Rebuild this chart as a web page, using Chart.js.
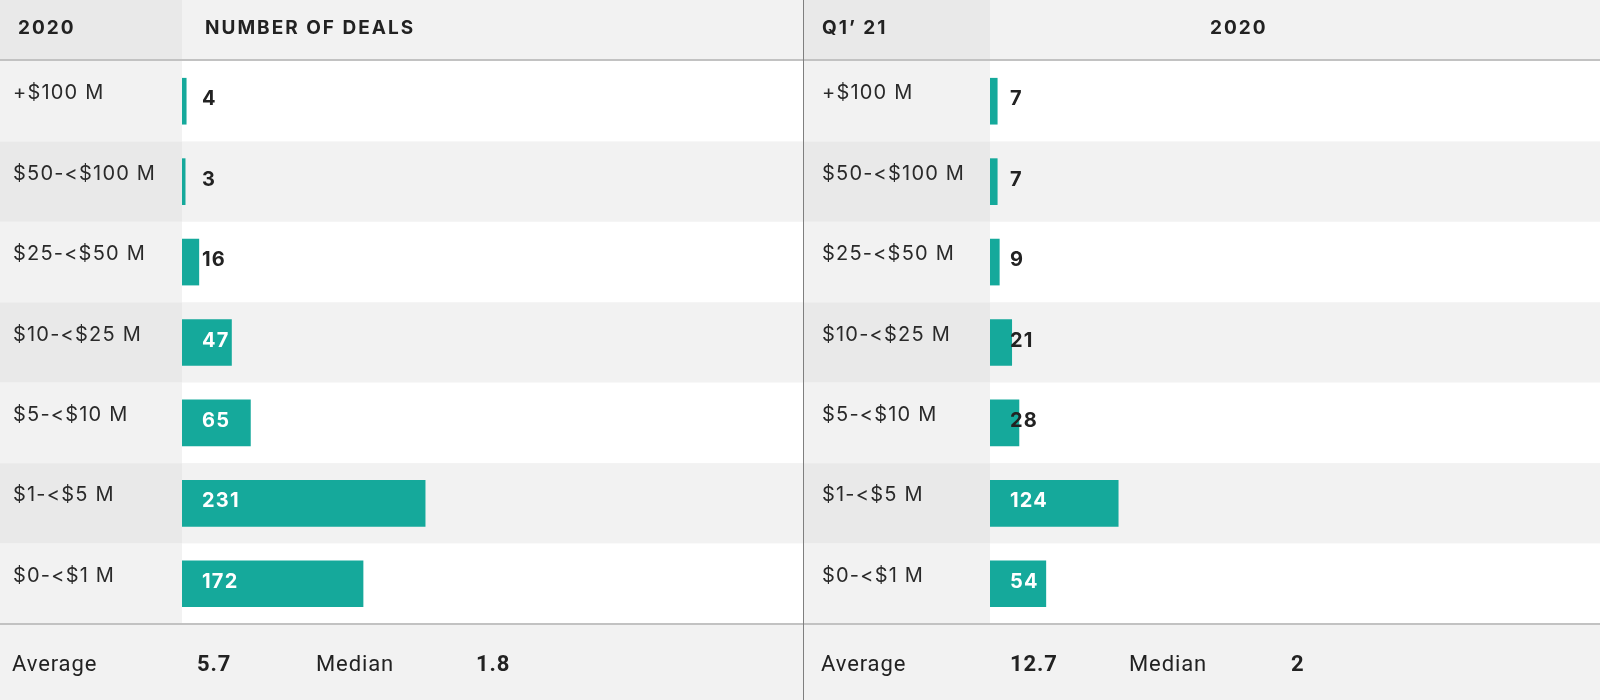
<!DOCTYPE html>
<html>
<head>
<meta charset="utf-8">
<script src="https://cdn.jsdelivr.net/npm/chart.js@4"></script>
<style>
  html, body { margin: 0; padding: 0; background: #fff; }
  #wrap { position: relative; width: 1600px; height: 700px; overflow: hidden; font-family: Inter, "Noto Sans", sans-serif; color: #222; }
  canvas { position: absolute; top: 0; }
  .t { position: absolute; white-space: nowrap; line-height: 1; }
  .hd { font-weight: 700; font-size: 19px; letter-spacing: 2px; top: 18px; color: #222; }
  .ft { font-family: Roboto, Inter, sans-serif; font-size: 22px; letter-spacing: 0.9px; top: 653px; color: #222; }
  .ft b { font-weight: 700; }
  .hline { position: absolute; left: 0; width: 1600px; height: 2px; background: #c2c2c2; }
  .vline { position: absolute; top: 0; width: 1px; height: 700px; background: #7f7f7f; left: 803px; }
</style>
</head>
<body>
<div id="wrap">
  <canvas id="left" width="803" height="700" style="left:0"></canvas>
  <canvas id="right" width="796" height="700" style="left:804px"></canvas>

  <div class="t hd" style="left:18px">2020</div>
  <div class="t hd" style="left:205px">NUMBER OF DEALS</div>
  <div class="t hd" style="left:822px">Q1’ 21</div>
  <div class="t hd" style="left:1210px">2020</div>

  <div class="t ft" style="left:12px">Average</div>
  <div class="t ft" style="left:197px"><b>5.7</b></div>
  <div class="t ft" style="left:316px">Median</div>
  <div class="t ft" style="left:476px"><b>1.8</b></div>
  <div class="t ft" style="left:821px">Average</div>
  <div class="t ft" style="left:1010px"><b>12.7</b></div>
  <div class="t ft" style="left:1129px">Median</div>
  <div class="t ft" style="left:1291px"><b>2</b></div>

  <div class="hline" style="top:59px"></div>
  <div class="hline" style="top:623px"></div>
  <div class="vline"></div>
</div>
<script>
const categories = ['+$100 M', '$50-<$100 M', '$25-<$50 M', '$10-<$25 M', '$5-<$10 M', '$1-<$5 M', '$0-<$1 M'];
const deals2020 = [4, 3, 16, 47, 65, 231, 172];
const dealsQ121 = [7, 7, 9, 21, 28, 124, 54];

const BAR = '#15a99b';

const stripes = {
  id: 'stripes',
  beforeDraw(chart) {
    const {ctx, chartArea, scales: {y}} = chart;
    const W = chart.width, H = chart.height;
    const band = (chartArea.bottom - chartArea.top) / categories.length;
    ctx.save();
    ctx.fillStyle = '#e9e9e9';
    ctx.fillRect(0, 0, chartArea.left, chartArea.top);
    ctx.fillStyle = '#f2f2f2';
    ctx.fillRect(chartArea.left, 0, W - chartArea.left, chartArea.top);
    categories.forEach((c, i) => {
      const cy = y.getPixelForValue(i);
      const top = cy - band / 2;
      const even = i % 2 === 1;
      ctx.fillStyle = even ? '#e9e9e9' : '#f2f2f2';
      ctx.fillRect(0, top, chartArea.left, band);
      ctx.fillStyle = even ? '#f2f2f2' : '#ffffff';
      ctx.fillRect(chartArea.left, top, W - chartArea.left, band);
    });
    ctx.fillStyle = '#f2f2f2';
    ctx.fillRect(0, chartArea.bottom, W, H - chartArea.bottom);
    ctx.restore();
    ctx.letterSpacing = '1.2px';
  },
  beforeDatasetsDraw(chart) {
    chart.ctx.letterSpacing = '0px';
  }
};

const valueLabels = {
  id: 'valueLabels',
  afterDatasetsDraw(chart) {
    const {ctx, scales: {x}} = chart;
    const meta = chart.getDatasetMeta(0);
    const data = chart.data.datasets[0].data;
    const x0 = x.getPixelForValue(0);
    ctx.save();
    ctx.font = '700 20px Inter';
    ctx.letterSpacing = '1.2px';
    ctx.textBaseline = 'middle';
    ctx.textAlign = 'left';
    meta.data.forEach((bar, i) => {
      const v = data[i];
      ctx.fillStyle = v >= 40 ? '#ffffff' : '#222222';
      ctx.fillText(String(v), x0 + 20, bar.y - 2);
    });
    ctx.restore();
    ctx.letterSpacing = '0px';
  }
};

function makeChart(id, values, padLeft, axisWidth, xMax) {
  return new Chart(document.getElementById(id), {
    type: 'bar',
    data: {
      labels: categories,
      datasets: [{ data: values, backgroundColor: BAR, borderWidth: 0, barThickness: 46 }]
    },
    options: {
      indexAxis: 'y',
      responsive: false,
      animation: false,
      devicePixelRatio: 1,
      layout: { padding: { left: padLeft, top: 61, bottom: 76, right: 0 } },
      plugins: { legend: { display: false }, tooltip: { enabled: false } },
      scales: {
        x: { display: false, min: 0, max: xMax },
        y: {
          grid: { display: false, drawTicks: false },
          border: { display: false },
          ticks: {
            crossAlign: 'far',
            labelOffset: -8,
            padding: 0,
            color: '#2a2a2a',
            font: { family: 'Inter', size: 20, weight: '400' }
          },
          afterFit(scale) { scale.width = axisWidth; }
        }
      }
    },
    plugins: [stripes, valueLabels]
  });
}

makeChart('left', deals2020, 13, 169, 590);
makeChart('right', dealsQ121, 18, 168, 590);
</script>
</body>
</html>
